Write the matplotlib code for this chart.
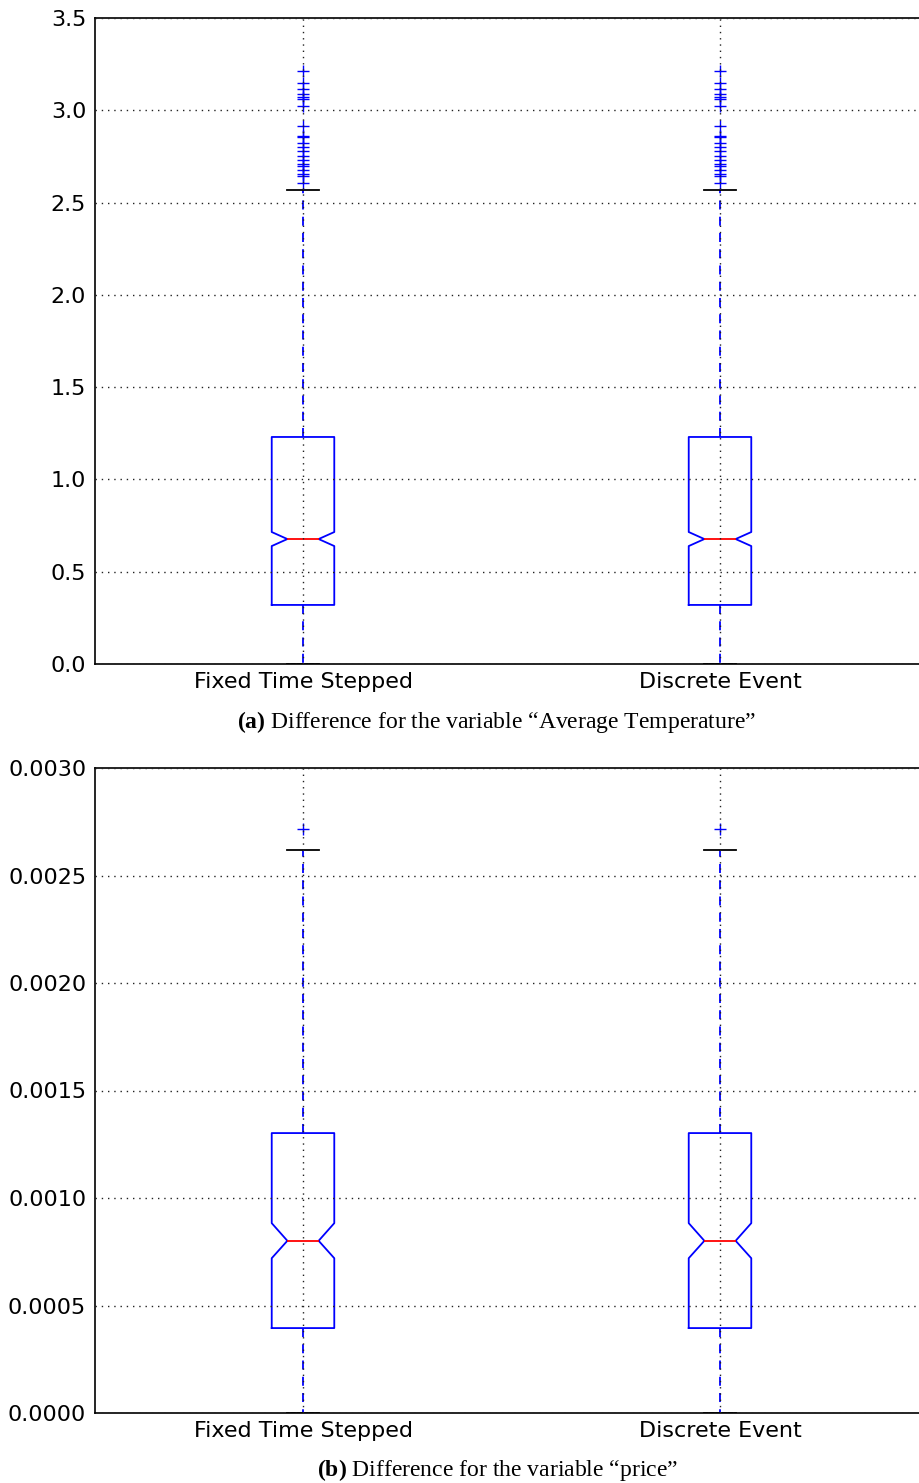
import matplotlib
matplotlib.use("Agg")
import matplotlib.pyplot as plt

plt.rcParams["mathtext.fontset"] = "custom"
plt.rcParams["mathtext.rm"] = "Liberation Serif"
plt.rcParams["mathtext.bf"] = "Liberation Serif:bold"

# Methods compared in both panels
methods = ["Fixed Time Stepped", "Discrete Event"]

# (a) Average Temperature difference: box statistics
temp_q1 = 0.32
temp_med = 0.677
temp_q3 = 1.23
temp_cilo = 0.639
temp_cihi = 0.715
temp_whislo = 0.0
temp_whishi = 2.568
temp_fliers = [3.215, 3.146, 3.115, 3.087, 3.074, 3.060, 3.024, 2.915, 2.861,
               2.854, 2.824, 2.803, 2.779, 2.752, 2.731, 2.709, 2.698, 2.677,
               2.655, 2.644, 2.608]

# (b) price difference: box statistics
price_q1 = 0.000395
price_med = 0.000801
price_q3 = 0.001302
price_cilo = 0.000720
price_cihi = 0.000883
price_whislo = 0.0
price_whishi = 0.002619
price_fliers = [0.002716]

temp_ticks = [0.0, 0.5, 1.0, 1.5, 2.0, 2.5, 3.0, 3.5]
price_ticks = [0.0, 0.0005, 0.0010, 0.0015, 0.0020, 0.0025, 0.0030]


def stats(q1, med, q3, cilo, cihi, lo, hi, fliers, label):
    return dict(q1=q1, med=med, q3=q3, cilo=cilo, cihi=cihi,
                whislo=lo, whishi=hi, fliers=fliers, label=label)


def draw_panel(ax, st, ticks, fmt, ylim):
    ax.bxp(st, positions=[1, 2], widths=0.15, shownotches=True,
           boxprops=dict(color="blue", linewidth=1.3),
           medianprops=dict(color="red", linewidth=1.3),
           whiskerprops=dict(color="blue", linestyle=(0, (5, 4)), linewidth=1.3),
           capprops=dict(color="black", linewidth=1.3),
           flierprops=dict(marker="+", markeredgecolor="blue",
                           markersize=9, markeredgewidth=1.0),
           capwidths=0.075)
    ax.set_xlim(0.5, 2.5)
    ax.set_ylim(*ylim)
    ax.set_yticks(ticks)
    ax.set_yticklabels([fmt.format(t) for t in ticks])
    ax.grid(True, color="#222222", linestyle=(0, (1, 3.5)), linewidth=1.0)
    ax.set_axisbelow(False)
    ax.tick_params(length=0, labelsize=16, pad=6)
    for sp in ax.spines.values():
        sp.set_linewidth(1.2)


fig = plt.figure(figsize=(9.19, 14.83), dpi=100)

ax1 = fig.add_axes([94.5 / 919, 1 - 664 / 1483, 834 / 919, 646 / 1483])
st1 = [stats(temp_q1, temp_med, temp_q3, temp_cilo, temp_cihi,
             temp_whislo, temp_whishi, temp_fliers, m) for m in methods]
draw_panel(ax1, st1, temp_ticks, "{:.1f}", (0, 3.5))

ax2 = fig.add_axes([94.5 / 919, 1 - 1413 / 1483, 834 / 919, 645 / 1483])
st2 = [stats(price_q1, price_med, price_q3, price_cilo, price_cihi,
             price_whislo, price_whishi, price_fliers, m) for m in methods]
draw_panel(ax2, st2, price_ticks, "{:.4f}", (0, 0.003))

fig.text(497 / 919, 1 - 722 / 1483,
         r"$\mathbf{(a)}$ Difference for the variable “Average Temperature”",
         ha="center", va="center", fontsize=17, family="Liberation Serif")
fig.text(497 / 919, 1 - 1470 / 1483,
         r"$\mathbf{(b)}$ Difference for the variable “price”",
         ha="center", va="center", fontsize=17, family="Liberation Serif")

fig.savefig("out.png", dpi=100)
